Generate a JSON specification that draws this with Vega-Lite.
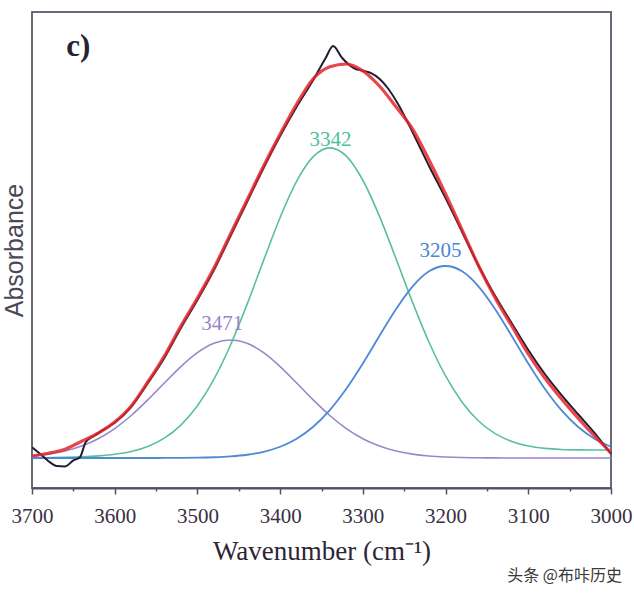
{
  "$schema": "https://vega.github.io/schema/vega-lite/v6.json",
  "autosize": "none",
  "width": 579,
  "height": 476,
  "padding": {"left": 32, "top": 12, "right": 23, "bottom": 108},
  "background": "white",
  "view": {"stroke": "#6b6878", "strokeWidth": 2},
  "config": {"font": "Liberation Serif"},
  "title": {
    "text": "头条 @布咔历史",
    "orient": "bottom",
    "anchor": "end",
    "font": "Noto Sans CJK SC",
    "fontSize": 16,
    "fontWeight": "normal",
    "color": "#3a3a3a",
    "offset": 4,
    "dx": -10
  },
  "datasets": {
    "measured": [
      {"wn": 3700, "a": 0.027}, {"wn": 3690, "a": 0.01}, {"wn": 3680, "a": -0.008},
      {"wn": 3670, "a": -0.02}, {"wn": 3660, "a": -0.021}, {"wn": 3650, "a": -0.006},
      {"wn": 3642, "a": 0.002}, {"wn": 3635, "a": 0.04}, {"wn": 3625, "a": 0.055},
      {"wn": 3610, "a": 0.075}, {"wn": 3600, "a": 0.088}, {"wn": 3580, "a": 0.128},
      {"wn": 3560, "a": 0.187}, {"wn": 3540, "a": 0.25}, {"wn": 3520, "a": 0.325},
      {"wn": 3500, "a": 0.395}, {"wn": 3480, "a": 0.47}, {"wn": 3460, "a": 0.555},
      {"wn": 3440, "a": 0.64}, {"wn": 3420, "a": 0.725}, {"wn": 3400, "a": 0.805},
      {"wn": 3380, "a": 0.878}, {"wn": 3360, "a": 0.945}, {"wn": 3345, "a": 1.0},
      {"wn": 3336, "a": 1.03}, {"wn": 3325, "a": 1.0}, {"wn": 3311, "a": 0.975},
      {"wn": 3300, "a": 0.968}, {"wn": 3290, "a": 0.962}, {"wn": 3280, "a": 0.948},
      {"wn": 3270, "a": 0.925}, {"wn": 3258, "a": 0.887}, {"wn": 3240, "a": 0.815},
      {"wn": 3220, "a": 0.73}, {"wn": 3200, "a": 0.65}, {"wn": 3180, "a": 0.565},
      {"wn": 3160, "a": 0.48}, {"wn": 3140, "a": 0.405}, {"wn": 3120, "a": 0.337},
      {"wn": 3100, "a": 0.27}, {"wn": 3080, "a": 0.21}, {"wn": 3060, "a": 0.158},
      {"wn": 3040, "a": 0.11}, {"wn": 3020, "a": 0.063}, {"wn": 3000, "a": 0.01}
    ],
    "fit": [
      {"wn": 3700, "a": 0.005}, {"wn": 3680, "a": 0.012}, {"wn": 3660, "a": 0.022},
      {"wn": 3640, "a": 0.042}, {"wn": 3620, "a": 0.062}, {"wn": 3600, "a": 0.09},
      {"wn": 3580, "a": 0.13}, {"wn": 3560, "a": 0.19}, {"wn": 3540, "a": 0.255},
      {"wn": 3520, "a": 0.33}, {"wn": 3500, "a": 0.4}, {"wn": 3480, "a": 0.475},
      {"wn": 3460, "a": 0.56}, {"wn": 3440, "a": 0.645}, {"wn": 3420, "a": 0.73},
      {"wn": 3400, "a": 0.81}, {"wn": 3380, "a": 0.885}, {"wn": 3360, "a": 0.948},
      {"wn": 3340, "a": 0.978}, {"wn": 3320, "a": 0.985}, {"wn": 3300, "a": 0.968},
      {"wn": 3280, "a": 0.93}, {"wn": 3260, "a": 0.878}, {"wn": 3240, "a": 0.823},
      {"wn": 3220, "a": 0.745}, {"wn": 3200, "a": 0.66}, {"wn": 3180, "a": 0.57},
      {"wn": 3160, "a": 0.48}, {"wn": 3140, "a": 0.4}, {"wn": 3120, "a": 0.33},
      {"wn": 3100, "a": 0.26}, {"wn": 3080, "a": 0.2}, {"wn": 3060, "a": 0.148},
      {"wn": 3040, "a": 0.1}, {"wn": 3020, "a": 0.055}, {"wn": 3000, "a": 0.013}
    ],
    "p3471": [
      {"wn": 3700, "a": 0.005}, {"wn": 3680, "a": 0.0096}, {"wn": 3660, "a": 0.0173},
      {"wn": 3640, "a": 0.0297}, {"wn": 3620, "a": 0.0481}, {"wn": 3600, "a": 0.0736},
      {"wn": 3580, "a": 0.1063}, {"wn": 3560, "a": 0.1452}, {"wn": 3540, "a": 0.1874},
      {"wn": 3520, "a": 0.2286}, {"wn": 3500, "a": 0.2634}, {"wn": 3480, "a": 0.2868},
      {"wn": 3460, "a": 0.295}, {"wn": 3440, "a": 0.2868}, {"wn": 3420, "a": 0.2634},
      {"wn": 3400, "a": 0.2286}, {"wn": 3380, "a": 0.1874}, {"wn": 3360, "a": 0.1452},
      {"wn": 3340, "a": 0.1063}, {"wn": 3320, "a": 0.0736}, {"wn": 3300, "a": 0.0481},
      {"wn": 3280, "a": 0.0297}, {"wn": 3260, "a": 0.0173}, {"wn": 3240, "a": 0.0096},
      {"wn": 3220, "a": 0.005}, {"wn": 3200, "a": 0.0025}, {"wn": 3180, "a": 0.0011},
      {"wn": 3160, "a": 0.0005}, {"wn": 3140, "a": 0.0002}, {"wn": 3120, "a": 0.0001},
      {"wn": 3100, "a": 0}, {"wn": 3000, "a": 0}
    ],
    "p3342": [
      {"wn": 3700, "a": 0.0001}, {"wn": 3680, "a": 0.0008}, {"wn": 3660, "a": 0.0016},
      {"wn": 3640, "a": 0.003}, {"wn": 3620, "a": 0.0053}, {"wn": 3600, "a": 0.0093},
      {"wn": 3580, "a": 0.0163}, {"wn": 3560, "a": 0.0288}, {"wn": 3540, "a": 0.0495},
      {"wn": 3520, "a": 0.0821}, {"wn": 3500, "a": 0.1304}, {"wn": 3480, "a": 0.1971},
      {"wn": 3460, "a": 0.2826}, {"wn": 3440, "a": 0.384}, {"wn": 3420, "a": 0.4941},
      {"wn": 3400, "a": 0.6013}, {"wn": 3380, "a": 0.6921}, {"wn": 3360, "a": 0.7534},
      {"wn": 3340, "a": 0.7753}, {"wn": 3320, "a": 0.7546}, {"wn": 3300, "a": 0.6944},
      {"wn": 3280, "a": 0.6047}, {"wn": 3260, "a": 0.4987}, {"wn": 3240, "a": 0.3897},
      {"wn": 3220, "a": 0.2894}, {"wn": 3200, "a": 0.2051}, {"wn": 3180, "a": 0.1396},
      {"wn": 3160, "a": 0.0924}, {"wn": 3140, "a": 0.0609}, {"wn": 3120, "a": 0.0414},
      {"wn": 3100, "a": 0.03}, {"wn": 3080, "a": 0.0241}, {"wn": 3060, "a": 0.0213},
      {"wn": 3040, "a": 0.0202}, {"wn": 3020, "a": 0.0199}, {"wn": 3000, "a": 0.0202}
    ],
    "p3205": [
      {"wn": 3700, "a": 0}, {"wn": 3560, "a": 0}, {"wn": 3540, "a": 0.0001},
      {"wn": 3520, "a": 0.0003}, {"wn": 3500, "a": 0.0008}, {"wn": 3480, "a": 0.0019},
      {"wn": 3460, "a": 0.004}, {"wn": 3440, "a": 0.0081}, {"wn": 3420, "a": 0.0156},
      {"wn": 3400, "a": 0.0282}, {"wn": 3380, "a": 0.0483}, {"wn": 3360, "a": 0.0782},
      {"wn": 3340, "a": 0.1197}, {"wn": 3320, "a": 0.173}, {"wn": 3300, "a": 0.2363},
      {"wn": 3280, "a": 0.305}, {"wn": 3260, "a": 0.3719}, {"wn": 3240, "a": 0.4285},
      {"wn": 3220, "a": 0.4666}, {"wn": 3200, "a": 0.48}, {"wn": 3180, "a": 0.4666},
      {"wn": 3160, "a": 0.4285}, {"wn": 3140, "a": 0.3719}, {"wn": 3120, "a": 0.305},
      {"wn": 3100, "a": 0.2363}, {"wn": 3080, "a": 0.173}, {"wn": 3060, "a": 0.1197},
      {"wn": 3040, "a": 0.0782}, {"wn": 3020, "a": 0.0483}, {"wn": 3000, "a": 0.0282}
    ],
    "labels": [
      {"wn": 3339, "a": 0.795, "t": "3342", "c": "#4fbf9c"},
      {"wn": 3206, "a": 0.518, "t": "3205", "c": "#4a86d4"},
      {"wn": 3470, "a": 0.335, "t": "3471", "c": "#9a82cc"}
    ],
    "panel": [
      {"wn": 3644, "a": 1.028, "t": "c)"}
    ]
  },
  "encoding": {
    "x": {
      "field": "wn",
      "type": "quantitative",
      "scale": {"domain": [3000, 3700], "reverse": true, "nice": false, "zero": false},
      "axis": {
        "title": "Wavenumber (cm⁻¹)",
        "values": [3700, 3650, 3600, 3550, 3500, 3450, 3400, 3350, 3300, 3250, 3200, 3150, 3100, 3050, 3000],
        "labelExpr": "datum.value % 100 === 0 ? datum.label : ''",
        "format": "d",
        "grid": false,
        "domainColor": "#5a4e62",
        "domainWidth": 2,
        "tickColor": "#5a4e62",
        "tickWidth": 1.5,
        "tickSize": {"condition": {"test": "datum.value % 100 !== 0", "value": 3}, "value": 6},
        "labelFont": "Liberation Serif",
        "labelFontSize": 21,
        "labelColor": "#3b2f45",
        "labelPadding": 11,
        "labelFlush": false,
        "labelOverlap": false,
        "titleFont": "Liberation Serif",
        "titleFontSize": 27,
        "titleFontWeight": "normal",
        "titleColor": "#2e2436",
        "titlePadding": 12
      }
    },
    "y": {
      "field": "a",
      "type": "quantitative",
      "scale": {"domain": [-0.075, 1.115], "nice": false, "zero": false},
      "axis": {
        "title": "Absorbance",
        "labels": false,
        "ticks": false,
        "domain": false,
        "grid": false,
        "titleFont": "Liberation Sans",
        "titleFontSize": 25,
        "titleFontWeight": "normal",
        "titleColor": "#4a4858",
        "titlePadding": 5
      }
    }
  },
  "layer": [
    {
      "data": {"name": "p3471"},
      "mark": {"type": "line", "interpolate": "monotone", "color": "#9a86c8", "strokeWidth": 1.6}
    },
    {
      "data": {"name": "p3342"},
      "mark": {"type": "line", "interpolate": "monotone", "color": "#5bbf9f", "strokeWidth": 1.6}
    },
    {
      "data": {"name": "p3205"},
      "mark": {"type": "line", "interpolate": "monotone", "color": "#4d8ad6", "strokeWidth": 1.8}
    },
    {
      "data": {"name": "measured"},
      "mark": {"type": "line", "interpolate": "monotone", "color": "#201d33", "strokeWidth": 2}
    },
    {
      "data": {"name": "fit"},
      "mark": {"type": "line", "interpolate": "monotone", "color": "#e4262c", "strokeWidth": 3.2, "opacity": 0.85}
    },
    {
      "data": {"name": "labels"},
      "mark": {"type": "text", "font": "Liberation Serif", "fontSize": 21, "baseline": "middle", "align": "center"},
      "encoding": {
        "text": {"field": "t"},
        "color": {"field": "c", "type": "nominal", "scale": null}
      }
    },
    {
      "data": {"name": "panel"},
      "mark": {"type": "text", "font": "Liberation Serif", "fontSize": 31, "fontWeight": "bold", "color": "#2a2030", "baseline": "middle", "align": "center"},
      "encoding": {"text": {"field": "t"}}
    }
  ]
}
